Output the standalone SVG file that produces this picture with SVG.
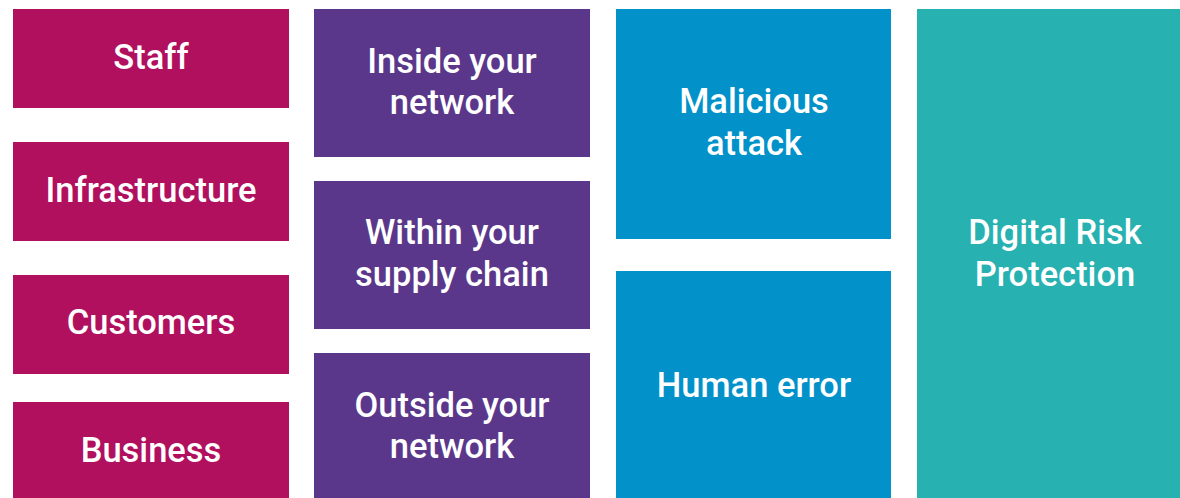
<svg xmlns="http://www.w3.org/2000/svg" width="1180" height="498" viewBox="0 0 1180 498">
<style>
.pink{fill:#B0105E}.purple{fill:#5A378A}.blue{fill:#0291C8}.teal{fill:#27B1B1}
text{font-family:Roboto,"Liberation Sans",sans-serif;font-size:34.5px;font-weight:500;fill:#FFFFFF;text-anchor:middle}
</style>
<rect width="1180" height="498" fill="#FFFFFF"/>
<g id="staff"><rect class="pink" x="13" y="9" width="276" height="99"/><text x="151" y="69">Staff</text></g>
<g id="infrastructure"><rect class="pink" x="13" y="142" width="276" height="99"/><text x="151" y="202">Infrastructure</text></g>
<g id="customers"><rect class="pink" x="13" y="275" width="276" height="99"/><text x="151" y="334">Customers</text></g>
<g id="business"><rect class="pink" x="13" y="402" width="276" height="96"/><text x="151" y="462">Business</text></g>
<g id="inside"><rect class="purple" x="314" y="9" width="276" height="148"/><text x="452" y="73">Inside your</text><text x="452" y="114">network</text></g>
<g id="within"><rect class="purple" x="314" y="181" width="276" height="148"/><text x="452" y="244">Within your</text><text x="452" y="286">supply chain</text></g>
<g id="outside"><rect class="purple" x="314" y="353" width="276" height="145"/><text x="452" y="417">Outside your</text><text x="452" y="458">network</text></g>
<g id="malicious"><rect class="blue" x="616" y="9" width="275" height="230"/><text x="754" y="113">Malicious</text><text x="754" y="155">attack</text></g>
<g id="human"><rect class="blue" x="616" y="271" width="275" height="227"/><text x="754" y="397">Human error</text></g>
<g id="drp"><rect class="teal" x="917" y="9" width="263" height="489"/><text x="1055" y="244">Digital Risk</text><text x="1055" y="286">Protection</text></g>
<g id="connectors"></g>
</svg>
